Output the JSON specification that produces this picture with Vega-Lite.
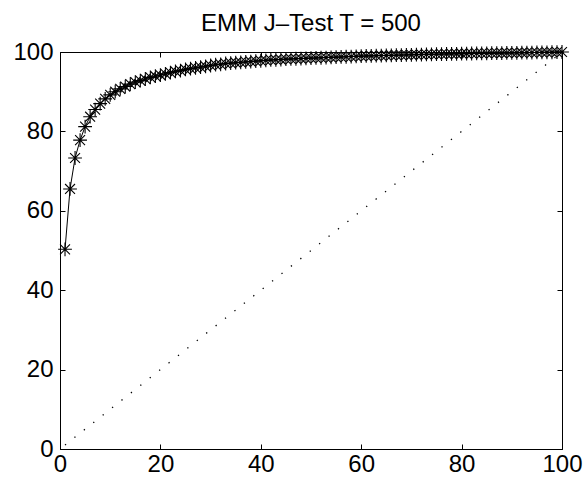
{
  "$schema": "https://vega.github.io/schema/vega-lite/v6.json",
  "width": 502,
  "height": 397,
  "autosize": "none",
  "padding": {"left": 60, "top": 52, "right": 25, "bottom": 38},
  "background": "white",
  "title": {"text": "EMM J–Test T = 500", "font": "Liberation Sans", "fontSize": 24, "fontWeight": "normal", "color": "black", "anchor": "middle", "baseline": "alphabetic", "offset": 0, "dy": 15},
  "config": {
    "view": {"stroke": "black", "strokeWidth": 1},
    "axis": {"grid": false, "domainColor": "black", "domainWidth": 1, "tickColor": "black", "tickWidth": 1, "tickSize": -5, "labelFont": "Liberation Sans", "labelFontSize": 24, "labelColor": "black", "title": null, "tickCount": 6, "labelFlush": false, "labelOverlap": false}
  },
  "datasets": {
    "curve": [
      {"x":1,"y":50.3},{"x":2,"y":65.5},{"x":3,"y":73.3},{"x":4,"y":77.8},{"x":5,"y":81.2},
      {"x":6,"y":83.7},{"x":7,"y":85.5},{"x":8,"y":87.0},{"x":9,"y":88.2},{"x":10,"y":89.2},
      {"x":11,"y":90.0},{"x":12,"y":90.7},{"x":13,"y":91.3},{"x":14,"y":91.9},{"x":15,"y":92.4},
      {"x":16,"y":92.8},{"x":17,"y":93.2},{"x":18,"y":93.6},{"x":19,"y":93.9},{"x":20,"y":94.2},
      {"x":21,"y":94.5},{"x":22,"y":94.8},{"x":23,"y":95.1},{"x":24,"y":95.3},{"x":25,"y":95.6},
      {"x":26,"y":95.8},{"x":27,"y":96.0},{"x":28,"y":96.2},{"x":29,"y":96.4},{"x":30,"y":96.6},
      {"x":31,"y":96.8},{"x":32,"y":96.9},{"x":33,"y":97.1},{"x":34,"y":97.2},{"x":35,"y":97.3},
      {"x":36,"y":97.4},{"x":37,"y":97.5},{"x":38,"y":97.6},{"x":39,"y":97.7},{"x":40,"y":97.8},
      {"x":41,"y":97.9},{"x":42,"y":98.0},{"x":43,"y":98.05},{"x":44,"y":98.1},{"x":45,"y":98.2},
      {"x":46,"y":98.25},{"x":47,"y":98.3},{"x":48,"y":98.35},{"x":49,"y":98.4},{"x":50,"y":98.45},
      {"x":51,"y":98.5},{"x":52,"y":98.55},{"x":53,"y":98.6},{"x":54,"y":98.65},{"x":55,"y":98.7},
      {"x":56,"y":98.75},{"x":57,"y":98.8},{"x":58,"y":98.85},{"x":59,"y":98.9},{"x":60,"y":98.95},
      {"x":61,"y":99.0},{"x":62,"y":99.03},{"x":63,"y":99.06},{"x":64,"y":99.1},{"x":65,"y":99.13},
      {"x":66,"y":99.16},{"x":67,"y":99.2},{"x":68,"y":99.23},{"x":69,"y":99.26},{"x":70,"y":99.3},
      {"x":71,"y":99.33},{"x":72,"y":99.36},{"x":73,"y":99.4},{"x":74,"y":99.42},{"x":75,"y":99.45},
      {"x":76,"y":99.48},{"x":77,"y":99.5},{"x":78,"y":99.52},{"x":79,"y":99.55},{"x":80,"y":99.57},
      {"x":81,"y":99.6},{"x":82,"y":99.62},{"x":83,"y":99.64},{"x":84,"y":99.66},{"x":85,"y":99.68},
      {"x":86,"y":99.7},{"x":87,"y":99.72},{"x":88,"y":99.74},{"x":89,"y":99.76},{"x":90,"y":99.78},
      {"x":91,"y":99.8},{"x":92,"y":99.82},{"x":93,"y":99.84},{"x":94,"y":99.86},{"x":95,"y":99.88},
      {"x":96,"y":99.9},{"x":97,"y":99.92},{"x":98,"y":99.94},{"x":99,"y":99.96},{"x":100,"y":100}
    ],
    "diag": [{"x":1,"y":1},{"x":100,"y":100}]
  },
  "layer": [
    {
      "data": {"name": "diag"},
      "mark": {"type": "line", "color": "black", "strokeWidth": 1.3, "strokeDash": [1.3, 10.7], "clip": true},
      "encoding": {
        "x": {"field": "x", "type": "quantitative", "scale": {"domain": [0, 100], "nice": false}, "axis": {"orient": "bottom", "values": [0,20,40,60,80,100], "labelPadding": 8}},
        "y": {"field": "y", "type": "quantitative", "scale": {"domain": [0, 100], "nice": false}, "axis": {"orient": "left", "values": [0,20,40,60,80,100], "labelPadding": 12}}
      }
    },
    {
      "data": {"name": "curve"},
      "mark": {"type": "line", "color": "black", "strokeWidth": 1},
      "encoding": {
        "x": {"field": "x", "type": "quantitative", "axis": {"orient": "top", "values": [0,20,40,60,80,100], "labels": false, "domain": false}},
        "y": {"field": "y", "type": "quantitative", "axis": {"orient": "right", "values": [0,20,40,60,80,100], "labels": false, "domain": false}}
      }
    },
    {
      "data": {"name": "curve"},
      "mark": {"type": "point", "shape": "M-1,0L1,0M0,-1L0,1M-0.72,-0.72L0.72,0.72M-0.72,0.72L0.72,-0.72", "filled": false, "color": "black", "strokeWidth": 1.1, "size": 190, "opacity": 1, "clip": false},
      "encoding": {
        "x": {"field": "x", "type": "quantitative", "axis": null},
        "y": {"field": "y", "type": "quantitative", "axis": null}
      }
    }
  ],
  "resolve": {"axis": {"x": "independent", "y": "independent"}}
}
